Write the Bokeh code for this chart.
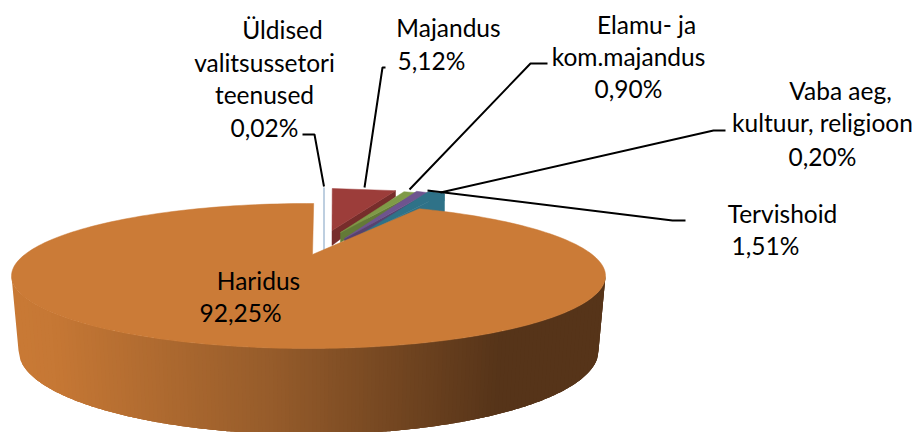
import math
from bokeh.plotting import figure
from bokeh.models import Range1d
from bokeh.core.properties import value
from bokeh.embed import file_html
from bokeh.resources import INLINE

# ---- data ----
categories = ["Üldised valitsussetori teenused", "Majandus", "Elamu- ja kom.majandus",
              "Vaba aeg, kultuur, religioon", "Tervishoid", "Haridus"]
shares = [0.02, 5.12, 0.90, 0.20, 1.51, 92.25]
share_labels = ["0,02%", "5,12%", "0,90%", "0,20%", "1,51%", "92,25%"]

label_lines = [["Üldised", "valitsussetori", "teenused"], ["Majandus"], ["Elamu- ja", "kom.majandus"],
               ["Vaba aeg,", "kultuur, religioon"], ["Tervishoid"], ["Haridus"]]

# ---- layout and styles ----
W, H = 917, 432
p = figure(width=W, height=H, output_backend="svg", toolbar_location=None,
           x_range=Range1d(0, W), y_range=Range1d(H, 0), min_border=0)
p.axis.visible = False
p.grid.visible = False
p.outline_line_color = None
p.background_fill_color = "white"

top_colors = ["#ffffff", "#9c3d3a", "#7f9a47", "#6e548f", "#2f7288"]
side_colors = ["#a9bfd6", "#772d2b", "#637a37", "#57426f", "#2f7288"]
# apex x, apex y, horizontal radius, vertical radius, depth of each exploded slice
geom = [(323.5, 250, 200, 63, 0), (331.5, 230, 200, 42, 15), (340, 232, 200, 43, 10),
        (344, 238, 190, 51, 6), (349, 241, 181, 56, 18)]
min_sweep = 3.8


def pt(g, deg):
    a = math.radians(deg)
    return g[0] + g[2] * math.sin(a), g[1] - g[3] * math.cos(a)


angle = 0.0
for i in range(5):
    sweep = max(shares[i] * 3.6, min_sweep) if i else shares[i] * 3.6
    g = geom[i]
    s, e = pt(g, angle), pt(g, angle + sweep)
    if g[4]:
        p.patch([g[0], e[0], e[0], g[0]], [g[1], e[1], e[1] + g[4] * 0.4, g[1] + g[4]],
                fill_color=side_colors[i], line_color=side_colors[i], line_width=0.5)
        p.patch([g[0], s[0], e[0]], [g[1], s[1], e[1]],
                fill_color=top_colors[i], line_color=top_colors[i], line_width=0.5)
    else:
        p.line([g[0], s[0]], [g[1], s[1]], line_color=side_colors[i], line_width=1.5)
    angle += sweep

# teal slice's outer wall
g = geom[4]
e = pt(g, angle)
p.patch([e[0] - 15, e[0], e[0], e[0] - 15], [e[1], e[1], e[1] + 18, e[1] + 18],
        fill_color="#2f7288", line_color="#2f7288")

# Haridus: side wall with its horizontal gradient
cx, cy, rx, ry = 308, 275.5, 297, 72.5
bcx, bcy, brx, bry = 308, 350, 290, 84
stops = [(0, (201, 122, 54)), (40, (198, 120, 53)), (260, (150, 92, 43)), (490, (86, 52, 25)), (600, (86, 52, 25))]


def side_col(x):
    x = x - 10
    for (a, ca), (b, cb) in zip(stops, stops[1:]):
        if x <= b:
            f = (x - a) / (b - a)
            return tuple(int(ca[k] + (cb[k] - ca[k]) * f) for k in range(3))
    return stops[-1][1]


# base wall, then vertical bands drawn left to right, each overlapping the next
wall_u = [-1 + 2 * k / 200 for k in range(201)]
N = 150
for j in range(N):
    u0 = -1 + 2 * j / N
    u1 = min(1.0, u0 + 2 * 3 / N)
    band = [u0 + (u1 - u0) * k / 6 for k in range(7)]
    xs = [cx + rx * u for u in band] + [bcx + brx * u for u in reversed(band)]
    ys = [cy + ry * math.sqrt(max(0, 1 - u * u)) for u in band] + \
         [bcy + bry * math.sqrt(max(0, 1 - u * u)) for u in reversed(band)]
    col = "#%02x%02x%02x" % side_col(cx + rx * u0)
    p.patch(xs, ys, fill_color=col, line_color=None)

# Haridus: top face, gap taken from the share
gap = (100 - shares[5]) * 3.6 * 0.75
t_start = 1.0
ts = [t_start + gap + (360 - gap) * k / 240 for k in range(241)]
hx = [cx + rx * math.sin(math.radians(t)) for t in ts] + [312]
hy = [cy - ry * math.cos(math.radians(t)) for t in ts] + [254]
p.patch(hx, hy, fill_color="#cb7b37", line_color="#cb7b37", line_width=0.5)

# leader lines
leaders = [([302, 314, 323.5], [134, 134, 186]),
           ([385, 382, 364], [67, 67, 187]),
           ([547, 530, 409], [63, 63, 189]),
           ([725, 713, 440], [130, 130, 192]),
           ([685, 672, 427], [220, 220, 190])]
for lx, ly in leaders:
    p.line(lx, ly, line_color="black", line_width=2)

# labels
lines = [label_lines[i] + [share_labels[i]] for i in range(6)]
xpos = [[282, 264, 264, 264], [448, 431], [646, 628, 628], [840, 822, 822], [782, 765], [258, 240]]
ypos = [[29, 62, 94, 127], [27, 60], [24, 56, 88], [90, 122, 156], [213, 245], [280, 312]]
for ln, xx, yy in zip(lines, xpos, ypos):
    p.text(x=xx, y=yy, text=ln, text_font=value("Lato"), text_font_size="24.5px",
           text_color="black", text_align="center", text_baseline="middle")

open("out.html", "w").write(file_html(p, INLINE))
